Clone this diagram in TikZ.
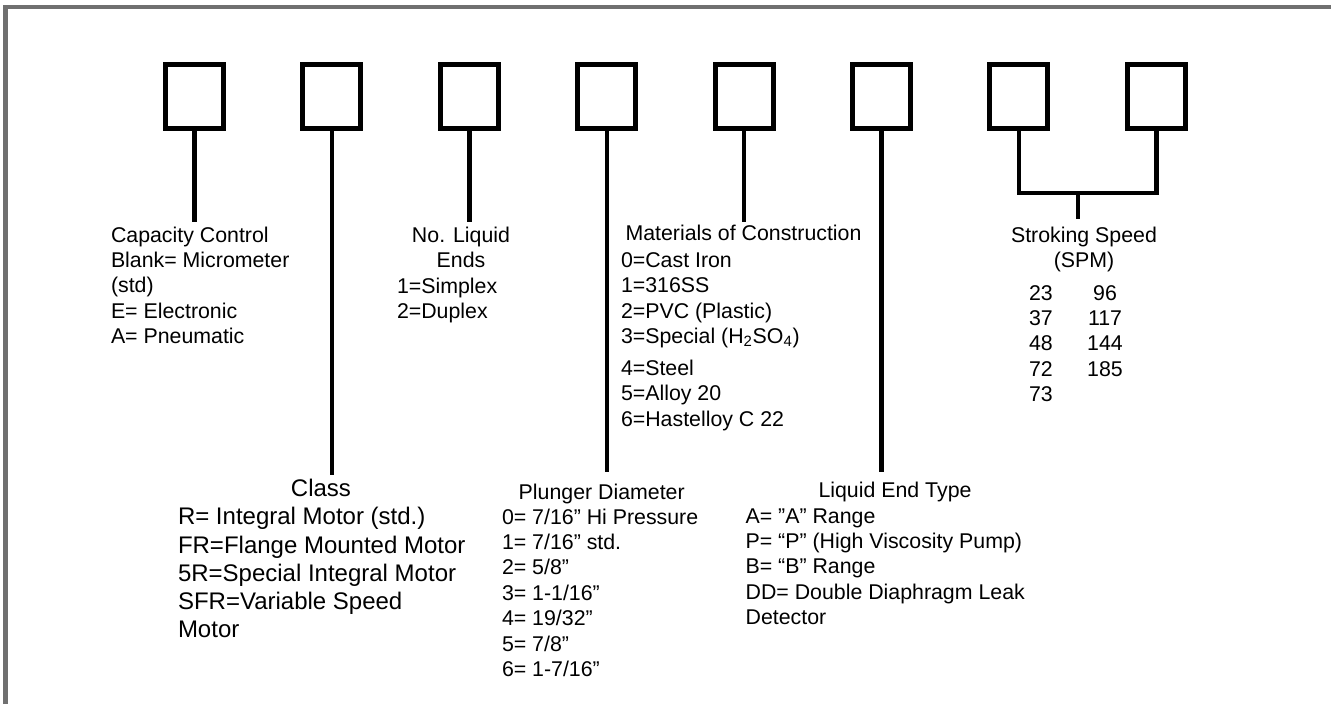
\documentclass[tikz,border=0pt]{standalone}
\usepackage{fontspec}
\setmainfont{Liberation Sans}
\definecolor{framegray}{RGB}{112,112,112}
\begin{document}
\begin{tikzpicture}[x=0.75pt,y=-0.75pt,
  pbox/.style={draw=black,line width=3.75pt,minimum width=43.5pt,minimum height=48pt,inner sep=0pt,outer sep=0pt},
  conn/.style={draw=black,line width=3.3pt,line join=miter},
  frameline/.style={draw=framegray,line width=3.2pt},
  lbl/.style={inner sep=0pt,outer sep=0pt,font=\fontsize{16}{19.1}\selectfont},
  lblbig/.style={inner sep=0pt,outer sep=0pt,font=\fontsize{18}{21.1}\selectfont}]
\useasboundingbox (0,0) rectangle (1331,704);
% frame (top and left edges only)
\draw[frameline] (5.5,704) -- (5.5,7) -- (1331,7);
% boxes
\foreach \i/\cx in {1/194.5,2/331.9,3/469.3,4/606.7,5/744.1,6/881.5,7/1018.9,8/1156.3}
  \node[pbox] (b\i) at (\cx,96.5) {};
% connector end points
\coordinate (e1) at (194.5,222);
\coordinate (e2) at (331.9,475);
\coordinate (e3) at (469.3,222);
\coordinate (e4) at (606.7,472);
\coordinate (e5) at (744.1,222);
\coordinate (e6) at (881.5,472);
\coordinate (bj) at (1078,193);
\coordinate (sp) at (1078,219);
\draw[conn] (b1.south) -- (e1);
\draw[conn] (b2.south) -- (e2);
\draw[conn] (b3.south) -- (e3);
\draw[conn] (b4.south) -- (e4);
\draw[conn] (b5.south) -- (e5);
\draw[conn] (b6.south) -- (e6);
\draw[conn] (b7.south) |- (bj) -| (b8.south);
\draw[conn] (bj) -- (sp);
% (multi-line nodes: anchor=base is the baseline of the last line)
% Capacity control
\node[lbl,align=left,anchor=base west] (cap) at (111,343.9)
  {Capacity Control\\Blank= Micrometer\\(std)\\E= Electronic\\A= Pneumatic};
% No. liquid ends
\node[lbl,align=center,anchor=base] (nlt) at (461,267.5) {No. Liquid\\Ends};
\node[lbl,align=left,anchor=base west] (nll) at (397,318.5) {1=Simplex\\2=Duplex};
% Materials
\node[lbl,anchor=base] (mt) at (743.5,240) {Materials of Construction};
\node[lbl,align=left,anchor=base west] (ml) at (621,426)
  {0=Cast Iron\\1=316SS\\2=PVC (Plastic)\\3=Special (H\textsubscript{2}SO\textsubscript{4})\\[4.6pt]4=Steel\\5=Alloy 20\\6=Hastelloy C 22};
% Stroking speed
\node[lbl,align=center,anchor=base] (st) at (1084,267.5) {Stroking Speed\\(SPM)};
\node[lbl,align=left,anchor=base west] (s1) at (1029,401.9) {23\\37\\48\\72\\73};
\node[lbl,align=center,anchor=base] (s2) at (1105,376.4) {96\\117\\144\\185};
% Class
\node[lblbig,anchor=base] (ct) at (321,496) {Class};
\node[lblbig,align=left,anchor=base west] (cl) at (178,637.5)
  {R= Integral Motor (std.)\\FR=Flange Mounted Motor\\5R=Special Integral Motor\\SFR=Variable Speed\\Motor};
% Plunger diameter
\node[lbl,anchor=base] (pt) at (601.7,499) {Plunger Diameter};
\node[lbl,align=left,anchor=base west] (pl) at (502,676.8)
  {0= 7/16” Hi Pressure\\1= 7/16” std.\\2= 5/8”\\3= 1-1/16”\\4= 19/32”\\5= 7/8”\\6= 1-7/16”};
% Liquid end type
\node[lbl,anchor=base] (lt) at (895,497) {Liquid End Type};
\node[lbl,align=left,anchor=base west] (ll) at (745.6,624.9)
  {A= ”A” Range\\P= “P” (High Viscosity Pump)\\B= “B” Range\\DD= Double Diaphragm Leak\\Detector};
\end{tikzpicture}
\end{document}
